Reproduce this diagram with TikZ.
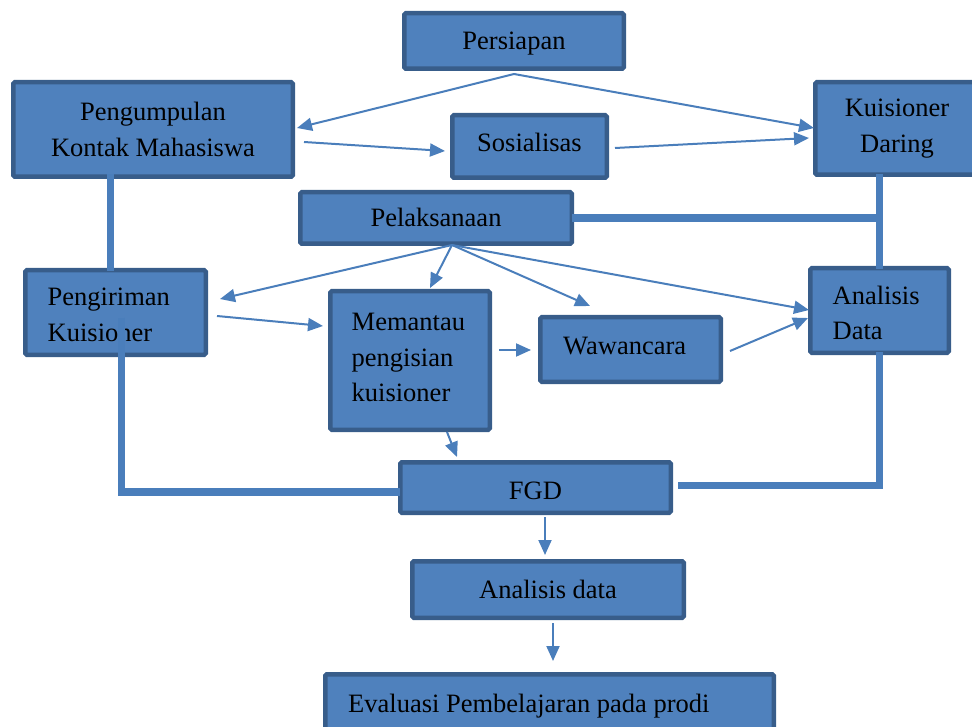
\documentclass[tikz,border=0pt]{standalone}
\usepackage{fontspec}
\setmainfont{Liberation Serif}
\usetikzlibrary{arrows.meta,calc}
\definecolor{boxfill}{HTML}{4F81BD}
\definecolor{boxline}{HTML}{385D8A}
\definecolor{linkc}{HTML}{4A7EBB}
\newcommand{\diafont}{\fontsize{26.5}{35.5}\selectfont}
\begin{document}
\begin{tikzpicture}[x=1pt,y=-1pt,
 box/.style={draw=boxline, fill=boxfill, line width=4.5pt, rounded corners=1.5pt, inner sep=0pt, outer sep=2.25pt, font=\diafont, text=black, align=center},
 one/.style={text height=18pt, text depth=0pt},
 txt/.style={font=\diafont, text=black, inner sep=0pt, align=left},
 arr/.style={draw=linkc, line width=2pt, -{Triangle[length=15pt,width=13pt]}},
 bar/.style={draw=linkc, line width=7.5pt}]
\useasboundingbox (0,0) rectangle (972,727);
\clip (0,0) rectangle (972,727);

% boxes
\node[box,one,minimum width=219.5pt,minimum height=55.5pt] (persiapan) at (514,41) {Persiapan};
\node[box,minimum width=279.5pt,minimum height=94.5pt] (pengumpulan) at (153,129.5) {Pengumpulan\\Kontak Mahasiswa};
\node[box,text height=10pt,text depth=0pt,minimum width=154.5pt,minimum height=62.5pt] (sosialisas) at (529.5,146.5) {Sosialisas};
\node[box,minimum width=163.5pt,minimum height=92.5pt] (kuisioner) at (897,128.5) {Kuisioner\\Daring};
\node[box,one,minimum width=271.5pt,minimum height=51.5pt] (pelaksanaan) at (436,218) {Pelaksanaan};
\node[box,minimum width=180.5pt,minimum height=84.5pt] (pengiriman) at (115.5,312.5) {};
\node[box,minimum width=159.5pt,minimum height=138.5pt] (memantau) at (410,360.5) {};
\node[box,minimum width=180.5pt,minimum height=64.5pt] (wawancara) at (630.5,349.5) {};
\node[box,minimum width=138.5pt,minimum height=84.5pt] (analisis) at (879.5,310.5) {};
\node[box,text height=24pt,text depth=0pt,minimum width=270.5pt,minimum height=50.5pt] (fgd) at (535.5,487.5) {FGD};
\node[box,one,minimum width=271.5pt,minimum height=56.5pt] (analisisdata) at (548,589.5) {Analisis data};
\node[box,minimum width=448.5pt,minimum height=83.5pt] (evaluasi) at (549.5,716) {};

% left-aligned texts
\node[txt,anchor=west] (pengiriman-t) at (47.5,315) {Pengiriman\\Kuisioner};
\node[txt,anchor=west] (memantau-t) at (351.5,357.7) {Memantau\\pengisian\\kuisioner};
\node[txt,anchor=base west] (wawancara-t) at (563,354) {Wawancara};
\node[txt,anchor=west] (analisis-t) at (832.5,313) {Analisis\\Data};
\node[txt,anchor=base west] (evaluasi-t) at (348,712.5) {Evaluasi Pembelajaran pada prodi};

% thin arrows
\draw[arr] ($(persiapan.south)+(0,3)$) -- ($(pengumpulan.east)+(2,-1.5)$);
\draw[arr] ($(persiapan.south)+(0,3)$) -- ($(kuisioner.west)+(1,-0.5)$);
\draw[arr] ($(pengumpulan.east)+(9,12.5)$) -- ($(sosialisas.west)+(-5,4.5)$);
\draw[arr] ($(sosialisas.east)+(6,1.5)$) -- ($(kuisioner.west)+(-4,9.5)$);
\draw[arr] ($(pelaksanaan.south)+(16,-1)$) -- ($(pengiriman.east)+(12,-13.5)$);
\draw[arr] ($(pelaksanaan.south)+(16,-1)$) -- ($(memantau.north)+(20,-1)$);
\draw[arr] ($(pelaksanaan.south)+(16,-1)$) -- ($(wawancara.north)+(-40.5,-9)$);
\draw[arr] ($(pelaksanaan.south)+(16,-1)$) -- ($(analisis.west)+(1,-0.5)$);
\draw[arr] ($(pengiriman.east)+(9,3.5)$) -- ($(memantau.west)+(-5,-34.5)$);
\draw[arr] ($(memantau.east)+(7,-10.5)$) -- ($(wawancara.west)+(-7,0.5)$);
\draw[arr] ($(wawancara.east)+(7,1.5)$) -- ($(analisis.west)+(0,7.5)$);
\draw[arr] ($(memantau.south)+(37,0)$) -- ($(fgd.north)+(-78.5,-3)$);
\draw[arr] ($(fgd.south)+(9.5,2)$) -- ($(analisisdata.north)+(-3,-4)$);
\draw[arr] ($(analisisdata.south)+(5,3)$) -- ($(evaluasi.north)+(3.5,-11)$);

% thick connectors
\draw[bar] ($(pengumpulan.south)+(-42.5,-5)$) -- ($(pengiriman.north)+(-5,3)$);
\draw[bar] ($(kuisioner.south)+(-17.5,-3)$) -- ($(analisis.north)+(0,3)$);
\draw[bar] ($(pelaksanaan.east)+(-2,0)$) -- (pelaksanaan.east -| analisis.north);
\draw[bar] ($(pengiriman.center)+(6,5.5)$) |- ($(fgd.west)+(2,4.5)$);
\draw[bar] ($(analisis.south)+(0,-3)$) |- ($(fgd.east)+(5,-2)$);
\end{tikzpicture}
\end{document}
